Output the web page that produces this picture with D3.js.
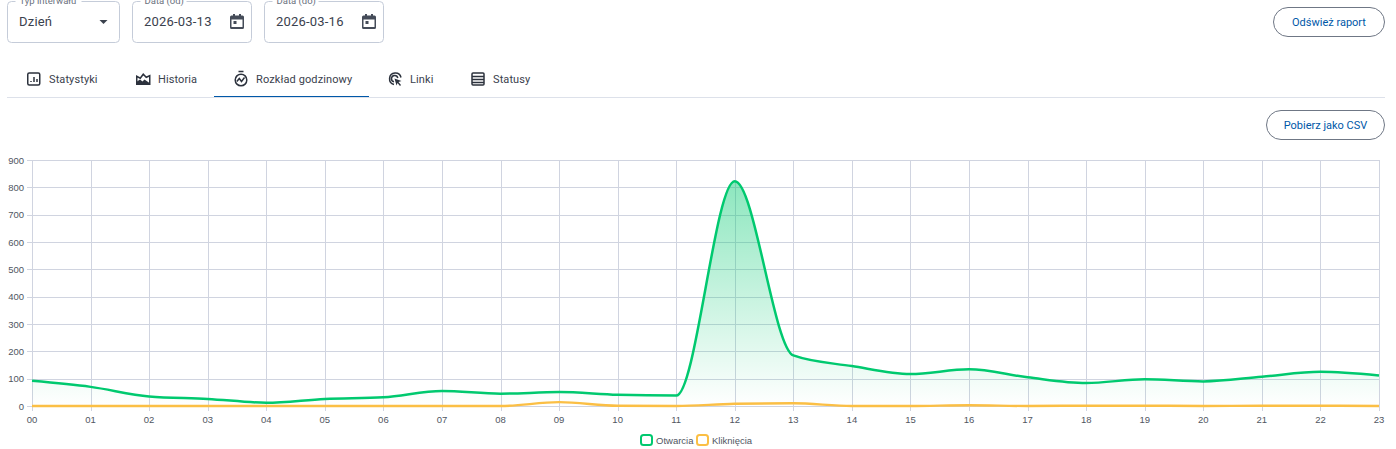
<html>
<head>
<meta charset="utf-8">
<script src="https://d3js.org/d3.v7.min.js"></script>
<style>
html, body { margin: 0; padding: 0; background: #fff; overflow: hidden; }
svg { display: block; }
</style>
</head>
<body>
<svg id="svg" width="1396" height="449"></svg>
<script>
var hours = ["00","01","02","03","04","05","06","07","08","09","10","11","12","13","14","15","16","17","18","19","20","21","22","23"];
var opens = [92,70,35,26,12,26,32,55,45,51,41,38,822,185,146,117,134,105,84,98,90,107,125,112];
var clicks = [0,0,0,0,0,0,0,0,0,14,1,0,8,10,0,0,3,0,1,1,0,1,1,0];
var yTicks = [0,100,200,300,400,500,600,700,800,900];
var seriesNames = ["Otwarcia","Kliknięcia"];
var fieldLabels = ["Typ interwału","Data (od)","Data (do)"];
var fieldValues = ["Dzień","2026-03-13","2026-03-16"];
var tabNames = ["Statystyki","Historia","Rozkład godzinowy","Linki","Statusy"];

var svg = d3.select("svg");
var uiFont = "Roboto, sans-serif";
var chartFont = "'Liberation Sans', Arial, sans-serif";
var green = "#00c96f", orange = "#fbbf45", grid = "#d0d4e0", blue = "#0058a8", dark = "#3a414d";

var x = d3.scalePoint().domain(hours).range([32, 1379]);
var y = d3.scaleLinear().domain([0, 900]).range([406, 160]);

// top form
var fields = [{x:7.5,w:112,lw:66},{x:132.5,w:119,lw:46},{x:264.5,w:119,lw:46}];
fields.forEach(function(f,i){
    svg.append("rect").attr("x",f.x).attr("y",1.5).attr("width",f.w).attr("height",41).attr("rx",4)
        .attr("fill","none").attr("stroke","#c5ccd9");
    svg.append("rect").attr("x",f.x+8).attr("y",0).attr("width",f.lw).attr("height",4).attr("fill","#fff");
    svg.append("text").attr("x",f.x+12).attr("y",4).attr("font-family",uiFont).attr("font-size",9.5)
        .attr("fill","#6b7280").text(fieldLabels[i]);
    svg.append("text").attr("x",f.x+11.5).attr("y",26).attr("font-family",uiFont).attr("font-size",13)
        .attr("letter-spacing",0.2).attr("fill",dark).text(fieldValues[i]);
});
svg.append("path").attr("d","M99.500 20h8l-4 4z").attr("fill",dark);
[230,362].forEach(function(px){
    var g = svg.append("g").attr("transform","translate("+px+",14)").attr("fill","#454c59");
    g.append("path").attr("fill-rule","evenodd")
     .attr("d","M3 0h2v1.500h4v-1.500h2v1.500h1.500a1.500 1.500 0 0 1 1.500 1.500v10.500a1.500 1.500 0 0 1-1.500 1.500h-11a1.500 1.500 0 0 1-1.500-1.500v-10.500a1.500 1.500 0 0 1 1.500-1.500h1.500zM1.500 5.500v7.500h11v-7.500z");
    g.append("rect").attr("x",3.5).attr("y",7).attr("width",3).attr("height",3);
});

// buttons
function button(bx, by, w, label){
    svg.append("rect").attr("x",bx).attr("y",by).attr("width",w).attr("height",29).attr("rx",14.500)
        .attr("fill","#fff").attr("stroke","#6f7785");
    svg.append("text").attr("x",bx+w/2).attr("y",by+18.500).attr("text-anchor","middle")
        .attr("font-family",uiFont).attr("font-size",11).attr("font-weight",400).attr("fill",blue).text(label);
}
button(1273.5,7.5,111,"Odśwież raport");
button(1266.5,110.5,118,"Pobierz jako CSV");

// tabs
var tabX = [49,158,256,410,493];
var iconX = [27,136,234,388,471];
tabNames.forEach(function(t,i){
    svg.append("text").attr("x",tabX[i]).attr("y",83).attr("font-family",uiFont).attr("font-size",11)
        .attr("letter-spacing",0.1).attr("fill",dark).text(t);
    var g = svg.append("g").attr("transform","translate("+iconX[i]+",72)").attr("fill","none").attr("stroke","#2c323d").attr("stroke-width",1.5);
    if(i==0){
        g.append("rect").attr("x",0.75).attr("y",1).attr("width",12).attr("height",12).attr("rx",1.500);
        g.append("path").attr("d","M4 10v-1M7 10v-5M10 10v-3");
    } else if(i==1){
        g.append("path").attr("d","M0.750 12.250v-8l3.500 2 3-4 3 3 3.500-1.500v8.500z");
        g.append("path").attr("d","M1 12.500v-3l3-2 2.500 2 2-2 5 3.500v1.500z").attr("fill","#2c323d").attr("stroke","none");
    } else if(i==2){
        g.append("circle").attr("cx",7).attr("cy",8).attr("r",5.800);
        g.append("path").attr("d","M4.500 -0.500h5M2.800 9.500l2.500-3 2.200 3 3-4");
    } else if(i==3){
        g.append("path").attr("d","M13 5.500a5.800 5.800 0 1 0-7 7M9.800 6a3.200 3.200 0 1 0-3.800 3.800");
        g.append("path").attr("d","M6.500 6.500l7 2.500-3 1 2.500 3-1 1-2.500-3-1 2.500z").attr("fill","#2c323d").attr("stroke","none");
    } else {
        g.append("rect").attr("x",1).attr("y",1).attr("width",12).attr("height",12).attr("rx",1);
        g.append("path").attr("d","M1 4.500h12M1 7.500h12M1 10.500h12");
    }
});
svg.append("line").attr("x1",7).attr("x2",1385).attr("y1",97.5).attr("y2",97.5).attr("stroke","#dde1ea");
svg.append("line").attr("x1",214).attr("x2",369).attr("y1",96.5).attr("y2",96.5).attr("stroke",blue);

// chart
var defs = svg.append("defs");
var grad = defs.append("linearGradient").attr("id","fillGreen").attr("gradientUnits","userSpaceOnUse")
    .attr("x1",0).attr("x2",0).attr("y1",y(822)).attr("y2",y(0));
grad.append("stop").attr("offset",0).attr("stop-color",green).attr("stop-opacity",0.45);
grad.append("stop").attr("offset",1).attr("stop-color",green).attr("stop-opacity",0);

var gridG = svg.append("g").attr("stroke",grid).attr("stroke-width",1);
gridG.selectAll(".h").data(yTicks).enter().append("line")
    .attr("x1",27).attr("x2",1379.5).attr("y1",function(d){return Math.round(y(d))+0.5;}).attr("y2",function(d){return Math.round(y(d))+0.5;});
gridG.selectAll(".v").data(hours).enter().append("line")
    .attr("x1",function(d){return Math.round(x(d))+0.5;}).attr("x2",function(d){return Math.round(x(d))+0.5;})
    .attr("y1",160).attr("y2",411);

var curve = d3.curveMonotoneX;
var area = d3.area().x(function(d,i){return x(hours[i]);}).y0(y(0)).y1(function(d){return y(d);}).curve(curve);
var line = d3.line().x(function(d,i){return x(hours[i]);}).y(function(d){return y(d);}).curve(curve);

svg.append("path").datum(opens).attr("d",area).attr("fill","url(#fillGreen)");
svg.append("path").datum(clicks).attr("d",line).attr("fill","none").attr("stroke",orange).attr("stroke-width",2.4);
svg.append("path").datum(opens).attr("d",line).attr("fill","none").attr("stroke",green).attr("stroke-width",2.5);

var labelCol = "#50565f";
svg.selectAll(".yl").data(yTicks).enter().append("text")
    .attr("x",24).attr("y",function(d){return y(d)+3.5;}).attr("text-anchor","end")
    .attr("font-family",chartFont).attr("font-size",9.5).attr("fill",labelCol).text(function(d){return d;});
svg.selectAll(".xl").data(hours).enter().append("text")
    .attr("x",function(d){return x(d);}).attr("y",423).attr("text-anchor","middle")
    .attr("font-family",chartFont).attr("font-size",9.5).attr("fill",labelCol).text(function(d){return d;});

// legend
var legX = [641,697], legTx = [656,712], legCol = [green,orange];
seriesNames.forEach(function(n,i){
    svg.append("rect").attr("x",legX[i]).attr("y",435).attr("width",11).attr("height",10).attr("rx",2.500)
        .attr("fill","#fff").attr("stroke",legCol[i]).attr("stroke-width",2);
    svg.append("text").attr("x",legTx[i]).attr("y",443.5).attr("font-family",chartFont).attr("font-size",9.5)
        .attr("fill",labelCol).text(n);
});
</script>
</body>
</html>
